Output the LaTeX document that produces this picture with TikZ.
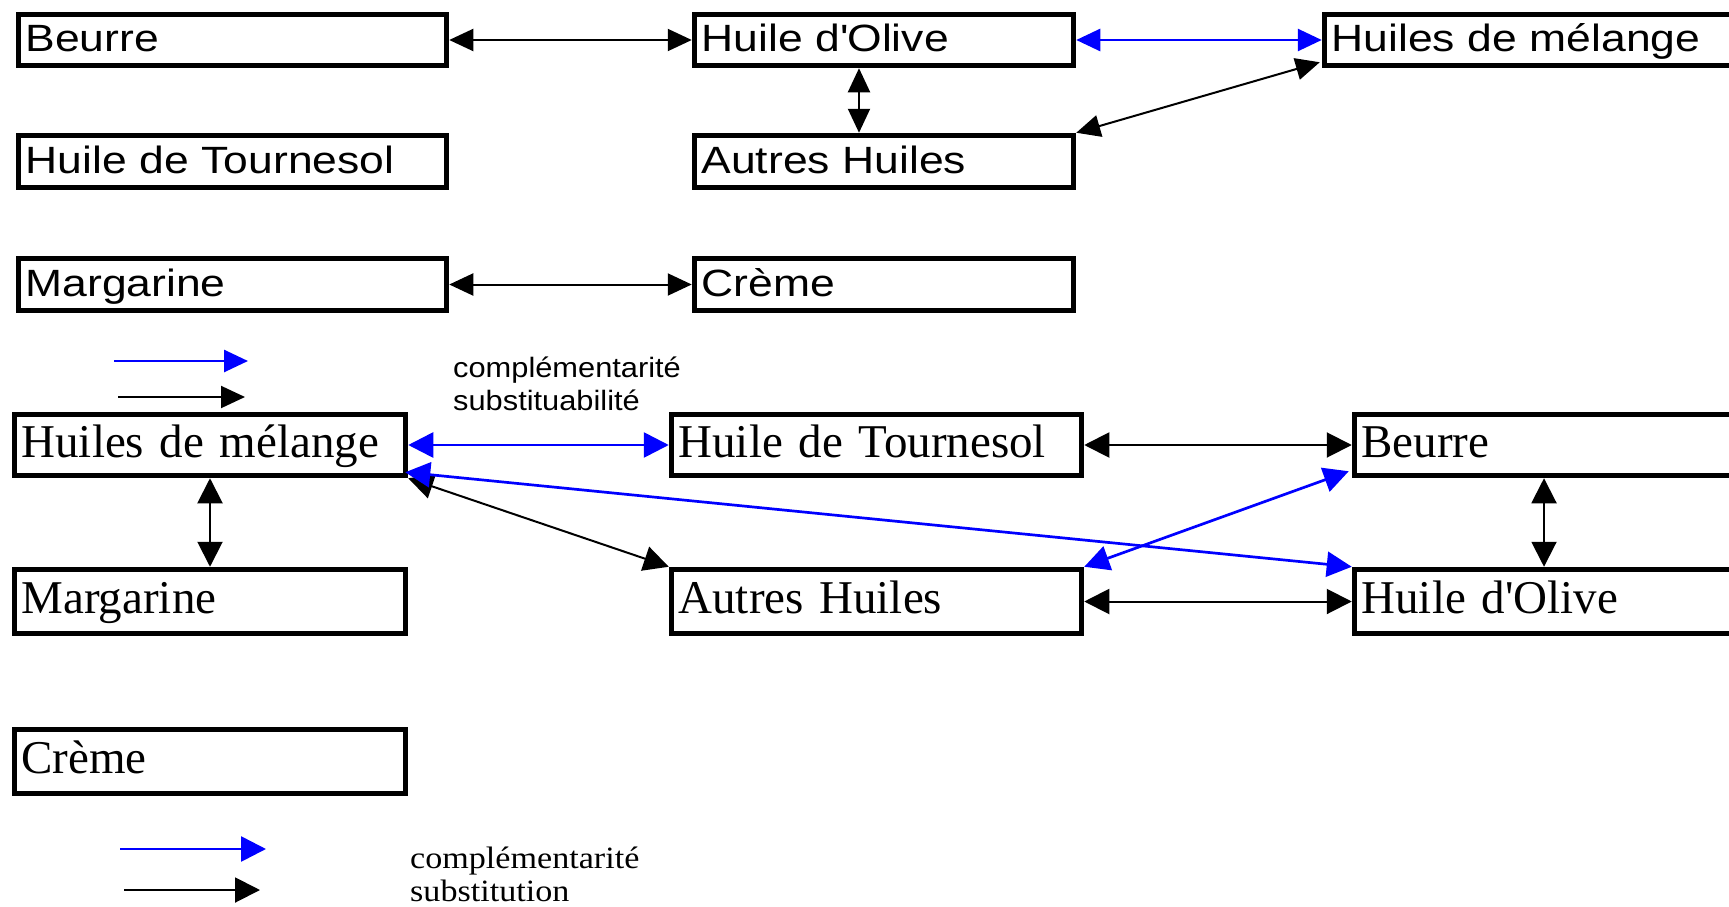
\documentclass[tikz,border=0pt]{standalone}
\usepackage{fontspec}
\setmainfont{Liberation Serif}
\newfontfamily\boxsans[FakeStretch=1.17]{Liberation Sans}
\newfontfamily\legsans[FakeStretch=1.1]{Liberation Sans}
\newfontfamily\legserif[FakeStretch=1.1]{Liberation Serif}
\usetikzlibrary{arrows.meta}
\tikzset{
  sbox/.style={draw, line width=5.5pt, rectangle, inner xsep=7pt, inner ysep=0pt, align=left,
    font=\boxsans\fontsize{38pt}{42pt}\selectfont, text height=31pt, text depth=7pt},
  rbox/.style={draw, line width=5.5pt, rectangle, inner xsep=7pt, inner ysep=0pt, align=left,
    font=\fontsize{47pt}{53pt}\selectfont, text height=34pt, text depth=10pt},
  legs/.style={inner sep=0pt, font=\legsans\fontsize{28pt}{32pt}\selectfont},
  legr/.style={inner sep=0pt, font=\legserif\fontsize{31pt}{36pt}\selectfont},
  ka/.style={line width=2pt, black, >={Triangle[length=24pt,width=22pt]}},
  ba/.style={line width=2.7pt, blue, >={Triangle[length=24pt,width=22pt]}},
  kb/.style={line width=2pt, black, >={Triangle[length=25pt,width=25pt]}},
  bb/.style={line width=2.7pt, blue, >={Triangle[length=25pt,width=25pt]}},
}
\begin{document}
\begin{tikzpicture}[x=1pt, y=-1pt]
\path[use as bounding box] (0,0) rectangle (1729,907);
\clip (0,0) rectangle (1729,907);

% ---------- top diagram ----------
\node[sbox, minimum width=428pt, minimum height=51pt, text width=414pt] (B1) at (232.5,40) {Beurre};
\node[sbox, minimum width=428pt, minimum height=52pt, text width=414pt] (T1) at (232.5,161.5) {Huile de Tournesol};
\node[sbox, minimum width=428pt, minimum height=52pt, text width=414pt] (M1) at (232.5,284.5) {Margarine};
\node[sbox, minimum width=379pt, minimum height=51pt, text width=365pt] (O1) at (884,40) {Huile d\textquotesingle Olive};
\node[sbox, minimum width=379pt, minimum height=52pt, text width=365pt] (A1) at (884,161.5) {Autres Huiles};
\node[sbox, minimum width=379pt, minimum height=52pt, text width=365pt] (C1) at (884,284.5) {Crème};
\node[sbox, minimum width=473pt, minimum height=51pt, text width=459pt] (H1) at (1561,40) {Huiles de mélange};

\draw[ka, <->] (B1.east) -- (O1.west);
\draw[ba, <->] (O1.east) -- (H1.west);
\draw[ka, <->] ([xshift=-25pt]O1.south) -- ([xshift=-25pt]A1.north);
\draw[ka, <->] (A1.north east) -- ([xshift=-2pt,yshift=6pt]H1.south west);
\draw[ka, <->] (M1.east) -- (C1.west);

% top legend
\coordinate (lb1) at (114,361);
\coordinate (lb2) at (248,361);
\coordinate (lk1) at (118,397);
\coordinate (lk2) at (245,397);
\draw[ba, ->] (lb1) -- (lb2);
\draw[ka, ->] (lk1) -- (lk2);
\node[legs, anchor=base west] (L1a) at (453,377) {complémentarité};
\node[legs, anchor=base west] (L1b) at (453,410) {substituabilité};

% ---------- bottom diagram ----------
\node[rbox, minimum width=391pt, minimum height=61pt, text width=377pt] (H2) at (210,445) {Huiles de mélange};
\node[rbox, minimum width=410pt, minimum height=61pt, text width=396pt] (T2) at (876.5,445) {Huile de Tournesol};
\node[rbox, minimum width=443pt, minimum height=61pt, text width=429pt] (B2) at (1576,445) {Beurre};
\node[rbox, minimum width=391pt, minimum height=64pt, text width=377pt] (M2) at (210,601.5) {Margarine};
\node[rbox, minimum width=410pt, minimum height=64pt, text width=396pt] (A2) at (876.5,601.5) {Autres Huiles};
\node[rbox, minimum width=443pt, minimum height=64pt, text width=429pt] (O2) at (1576,601.5) {Huile d\textquotesingle Olive};
\node[rbox, minimum width=391pt, minimum height=64pt, text width=377pt] (C2) at (210,761.5) {Crème};

\draw[bb, <->] (H2.east) -- (T2.west);
\draw[kb, <->] (T2.east) -- (B2.west);
\draw[kb, <->] (H2.south) -- (M2.north);
\draw[kb, <->] (H2.south east) -- (A2.north west);
\draw[bb, <->] ([xshift=-3pt,yshift=6pt]H2.south east) -- (O2.north west);
\draw[bb, <->] (A2.north east) -- ([xshift=-3pt,yshift=7pt]B2.south west);
\draw[kb, <->] (A2.east) -- (O2.west);
\draw[kb, <->] ([xshift=-32pt]B2.south) -- ([xshift=-32pt]O2.north);

% bottom legend
\coordinate (mb1) at (120,849);
\coordinate (mb2) at (266,849);
\coordinate (mk1) at (124,890);
\coordinate (mk2) at (260,890);
\draw[bb, ->] (mb1) -- (mb2);
\draw[kb, ->] (mk1) -- (mk2);
\node[legr, anchor=base west] (L2a) at (410,868) {complémentarité};
\node[legr, anchor=base west] (L2b) at (410,901) {substitution};
\end{tikzpicture}
\end{document}
